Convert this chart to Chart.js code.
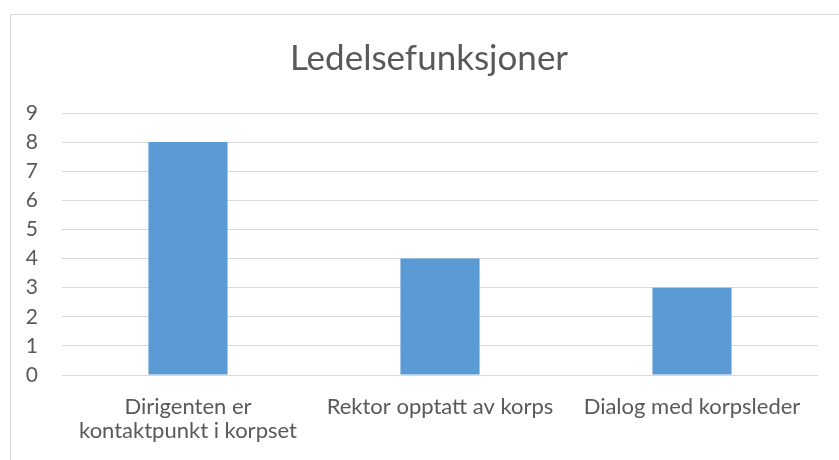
<!DOCTYPE html>
<html>
<head>
<meta charset="utf-8">
<script src="https://cdn.jsdelivr.net/npm/chart.js@4/dist/chart.umd.min.js"></script>
<style>
html,body{margin:0;padding:0;background:#fff;}
#wrap{position:absolute;left:0;top:0;width:839px;height:460px;}
</style>
</head>
<body>
<div id="wrap"><canvas id="c" width="839" height="460"></canvas></div>
<script>
const title = "Ledelsefunksjoner";
const categories = [["Dirigenten er", "kontaktpunkt i korpset"], "Rektor opptatt av korps", "Dialog med korpsleder"];
const values = [8, 4, 3];
const yMin = 0, yMax = 9, yStep = 1;

const textColor = "#595959";
const gridColor = "#D9D9D9";
const barColor = "#5B9BD5";
const fontFamily = "Lato, 'Open Sans', sans-serif";

const framePlugin = {
  id: 'frame',
  afterLayout(chart) {
    // centre the title over the framed chart box rather than the plot
    if (chart.titleBlock) {
      chart.titleBlock.left = 40;
      chart.titleBlock.right = 818;
    }
  },
  beforeDraw(chart) {
    const ctx = chart.ctx;
    ctx.save();
    ctx.fillStyle = '#fff';
    ctx.fillRect(0, 0, chart.width, chart.height);
    ctx.strokeStyle = gridColor;
    ctx.lineWidth = 1;
    ctx.beginPath();
    ctx.moveTo(10.5, chart.height);
    ctx.lineTo(10.5, 14.5);
    ctx.lineTo(chart.width, 14.5);
    ctx.stroke();
    ctx.restore();
  }
};

new Chart(document.getElementById('c'), {
  type: 'bar',
  data: {
    labels: categories,
    datasets: [{
      data: values,
      backgroundColor: barColor,
      borderWidth: 0,
      barPercentage: 0.314,
      categoryPercentage: 1.0
    }]
  },
  plugins: [framePlugin],
  options: {
    responsive: false,
    animation: false,
    devicePixelRatio: 1,
    layout: { padding: { left: 0, right: 21, top: 0, bottom: 0 } },
    plugins: {
      legend: { display: false },
      tooltip: { enabled: false },
      title: {
        display: true,
        text: title,
        color: textColor,
        font: { family: fontFamily, size: 35, weight: 'normal', lineHeight: 1.2 },
        padding: { top: 38, bottom: 33 }
      }
    },
    scales: {
      x: {
        grid: { display: false, drawTicks: false },
        border: { display: false },
        ticks: {
          color: textColor,
          font: { family: fontFamily, size: 22, lineHeight: 1.1 },
          padding: 20,
          maxRotation: 0,
          autoSkip: false
        },
        afterFit(scale) { scale.height = 460 - 375; }
      },
      y: {
        min: yMin,
        max: yMax,
        grid: { color: gridColor, lineWidth: 1, drawTicks: false },
        border: { display: false },
        ticks: {
          stepSize: yStep,
          color: textColor,
          font: { family: fontFamily, size: 21 },
          padding: 24
        },
        afterFit(scale) { scale.width = 62; }
      }
    }
  }
});
</script>
</body>
</html>
